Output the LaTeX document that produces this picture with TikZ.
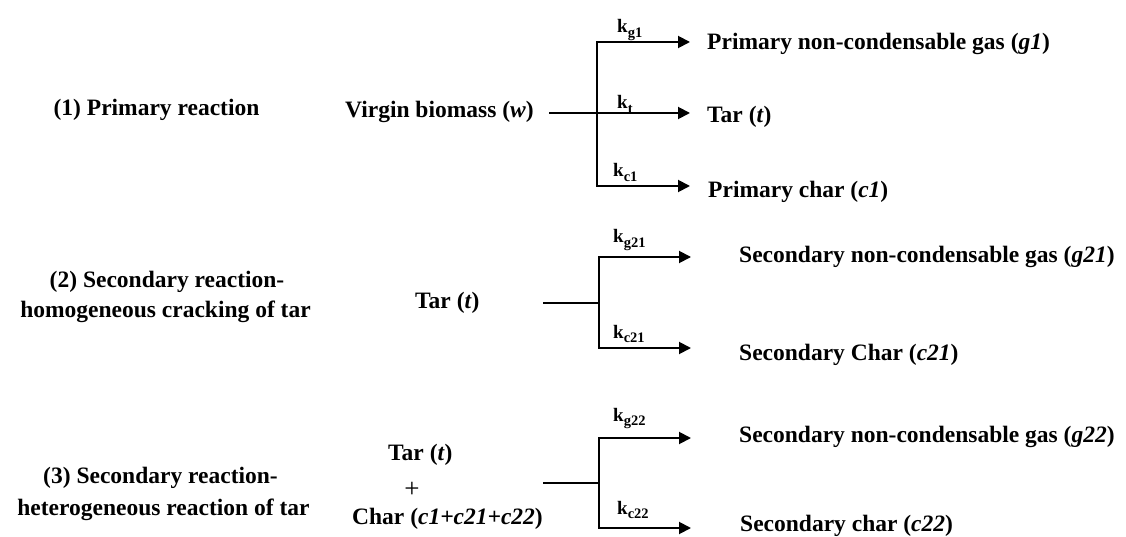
\documentclass[tikz,border=0pt]{standalone}
\usepackage{fontspec}
\setmainfont{Liberation Serif}
\usetikzlibrary{arrows.meta}

% rate-constant label: bold k with a lowered, smaller subscript
\newcommand{\rk}[1]{k\raisebox{-0.24em}{\fontsize{14.5}{14.5}\selectfont #1}}

\tikzset{
  txt/.style={inner sep=0pt, font=\fontsize{23.5}{28}\selectfont\bfseries},
  klab/.style={inner sep=0pt, anchor=base west, font=\fontsize{19}{19}\selectfont\bfseries},
  feed/.style={line width=1.9pt},
  branch/.style={line width=1.9pt, -{Triangle[length=12pt,width=12pt]}},
}

\begin{document}
\begin{tikzpicture}[x=1pt,y=-1pt]
\useasboundingbox (0,0) rectangle (1126,537);

% ---- reaction titles ----
\node[txt,anchor=base] (lab1)  at (156.5,116) {(1) Primary reaction};
\node[txt,anchor=base] (lab2a) at (167,287)   {(2) Secondary reaction-};
\node[txt,anchor=base] (lab2b) at (165.5,317) {homogeneous cracking of tar};
\node[txt,anchor=base] (lab3a) at (160.5,483) {(3) Secondary reaction-};
\node[txt,anchor=base] (lab3b) at (163.5,515) {heterogeneous reaction of tar};

% ---- reactants ----
\node[txt,anchor=base west] (w)     at (345,118) {Virgin biomass (\textit{w})};
\node[txt,anchor=base west] (tar2)  at (415,308) {Tar (\textit{t})};
\node[txt,anchor=base west] (tar3)  at (388,460) {Tar (\textit{t})};
\node[inner sep=0pt,font=\fontsize{27}{27}\selectfont] (plus) at (412,490) {+};
\node[txt,anchor=base west] (char3) at (352,524) {Char (\textit{c1+c21+c22})};

% ---- products ----
\node[txt,anchor=base west] (g1)  at (707,50)  {Primary non-condensable gas (\textit{g1})};
\node[txt,anchor=base west] (t1)  at (707,123) {Tar (\textit{t})};
\node[txt,anchor=base west] (c1)  at (708,198) {Primary char (\textit{c1})};
\node[txt,anchor=base west] (g21) at (739,262) {Secondary non-condensable gas (\textit{g21})};
\node[txt,anchor=base west] (c21) at (739,360) {Secondary Char (\textit{c21})};
\node[txt,anchor=base west] (g22) at (739,442) {Secondary non-condensable gas (\textit{g22})};
\node[txt,anchor=base west] (c22) at (740,531) {Secondary char (\textit{c22})};

% ---- junction points and arrow ends ----
\coordinate (s1) at (549,113);  \coordinate (j1) at (597,113);
\coordinate (e1a) at (690,42);  \coordinate (e1b) at (690,113); \coordinate (e1c) at (690,186);
\coordinate (s2) at (543,303);  \coordinate (j2) at (599,303);
\coordinate (e2a) at (691,257); \coordinate (e2b) at (691,348);
\coordinate (s3) at (543,483);  \coordinate (j3) at (599,483);
\coordinate (e3a) at (691,438); \coordinate (e3b) at (691,528);

% ---- reaction 1 ----
\draw[feed]   (s1) -- (j1);
\draw[feed]   (j1) -- (647,113);
\draw[branch] (j1) |- (e1a);
\draw[branch] (j1) -- (e1b);
\draw[branch] (j1) |- (e1c);
\node[klab] (kg1) at (617,33)  {\rk{g1}};
\node[klab] (kt)  at (617,109) {\rk{t}};
\node[klab] (kc1) at (613,177) {\rk{c1}};

% ---- reaction 2 ----
\draw[feed]   (s2) -- (j2);
\draw[branch] (j2) |- (e2a);
\draw[branch] (j2) |- (e2b);
\node[klab] (kg21) at (613,243) {\rk{g21}};
\node[klab] (kc21) at (613,338) {\rk{c21}};

% ---- reaction 3 ----
\draw[feed]   (s3) -- (j3);
\draw[branch] (j3) |- (e3a);
\draw[branch] (j3) |- (e3b);
\node[klab] (kg22) at (613,421) {\rk{g22}};
\node[klab] (kc22) at (617,514) {\rk{c22}};
\end{tikzpicture}
\end{document}
